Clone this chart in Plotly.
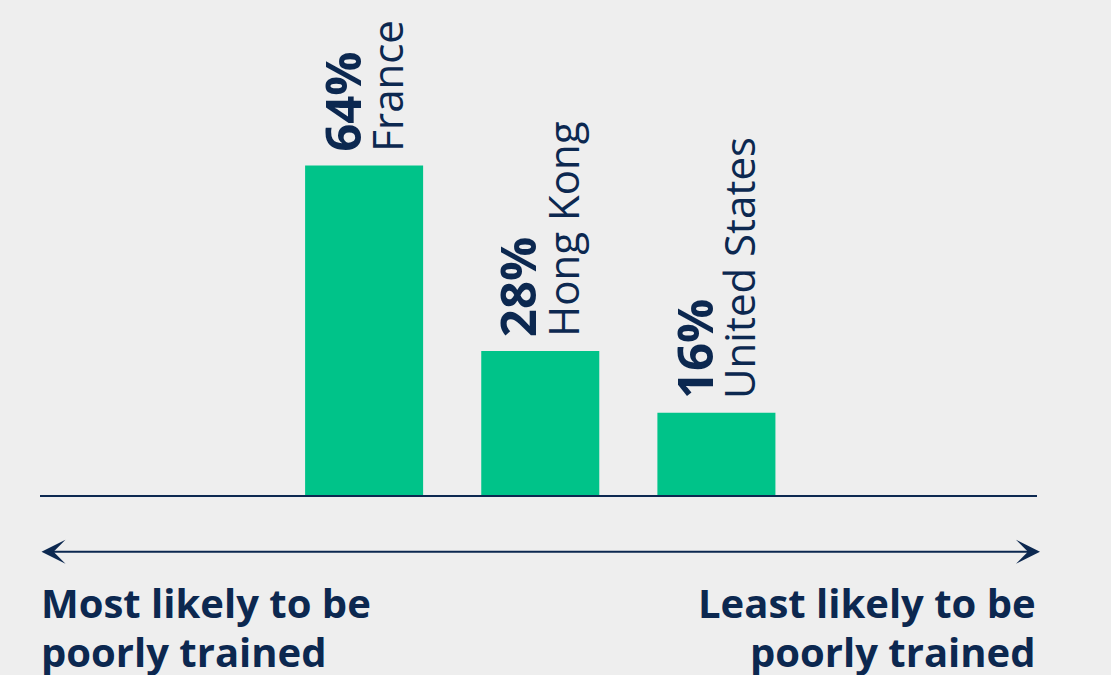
import plotly.graph_objects as go

countries = ["France", "Hong Kong", "United States"]
shares = [64, 28, 16]
value_labels = ["64%", "28%", "16%"]
left_lines = ["Most likely to be", "poorly trained"]
right_lines = ["Least likely to be", "poorly trained"]

BG = "#eeeeee"
GREEN = "#00c389"
NAVY = "#0c2850"
FONT = "Open Sans"

fig = go.Figure()
fig.add_trace(go.Bar(
    x=list(range(len(countries))),
    y=shares,
    width=0.67,
    marker=dict(color=GREEN, line=dict(width=0)),
    hoverinfo="skip",
))

annotations = []
for i, (c, v, lab) in enumerate(zip(countries, shares, value_labels)):
    annotations.append(dict(
        x=i, y=v, xref="x", yref="y", text="<b>" + lab + "</b>",
        textangle=-90, showarrow=False, xanchor="center", yanchor="bottom",
        xshift=-23, yshift=13, borderpad=0,
        font=dict(family=FONT, size=49, color=NAVY),
    ))
    annotations.append(dict(
        x=i, y=v, xref="x", yref="y", text=c,
        textangle=-90, showarrow=False, xanchor="center", yanchor="bottom",
        xshift=22, yshift=13, borderpad=0,
        font=dict(family=FONT, size=42, color=NAVY),
    ))

# double-headed arrow below axis
annotations.append(dict(
    x=1.003, y=-0.1145, xref="paper", yref="paper",
    ax=-1000, ay=0, axref="pixel", ayref="pixel",
    text="", showarrow=True, arrowside="end+start",
    arrowhead=3, startarrowhead=3, arrowsize=2, startarrowsize=2,
    arrowwidth=2, arrowcolor=NAVY, standoff=0, startstandoff=0,
))
line_tops = [-0.1596, -0.2586]
for txt, yt in zip(left_lines, line_tops):
    annotations.append(dict(
        x=0, y=yt, xref="paper", yref="paper", text="<b>" + txt + "</b>",
        showarrow=False, xanchor="left", yanchor="top", align="left",
        font=dict(family=FONT, size=40, color=NAVY), borderpad=0,
    ))
for txt, yt in zip(right_lines, line_tops):
    annotations.append(dict(
        x=1, y=yt, xref="paper", yref="paper", text="<b>" + txt + "</b>",
        showarrow=False, xanchor="right", yanchor="top", align="right",
        font=dict(family=FONT, size=40, color=NAVY), borderpad=0,
    ))

fig.update_layout(
    width=1111, height=675,
    margin=dict(l=40, r=74, t=0, b=180),
    paper_bgcolor=BG, plot_bgcolor=BG,
    showlegend=False,
    annotations=annotations,
    xaxis=dict(range=[-1.84, 3.82], showgrid=False, zeroline=False,
               showticklabels=False, ticks="", showline=True,
               linecolor=NAVY, linewidth=2, fixedrange=True),
    yaxis=dict(range=[0, 96.17], showgrid=False, zeroline=False,
               showticklabels=False, ticks="", showline=False, fixedrange=True),
)

fig.write_html("out.html")
